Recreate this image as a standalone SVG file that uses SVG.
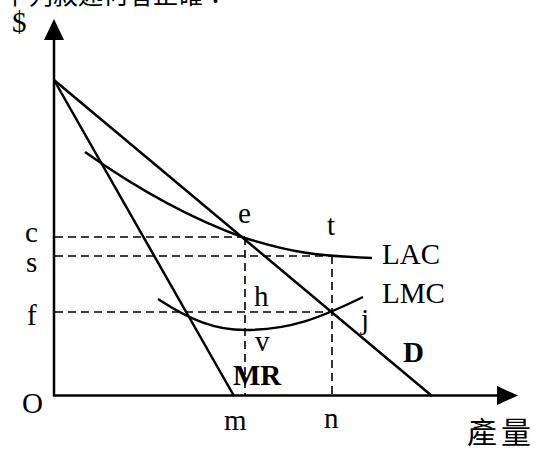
<svg xmlns="http://www.w3.org/2000/svg" width="535" height="455" viewBox="0 0 535 455">
<style>
text{font-family:"Liberation Serif","Times New Roman",serif;font-size:29px;fill:#000}
.b{font-weight:bold}
.cjk{font-family:"Liberation Serif","Noto Sans CJK TC",serif}
.ln{fill:none;stroke:#000;stroke-width:2.5}
.ax{fill:none;stroke:#000;stroke-width:2.5}
.dash{fill:none;stroke:#000;stroke-width:1.6;stroke-dasharray:8 5}
</style>
<rect width="535" height="455" fill="#fff"/>
<text class="cjk" x="3" y="4" style="font-size:25px">下列敘述何者正確：</text>
<g id="axes">
<line class="ax" x1="54" y1="396" x2="54" y2="38"/>
<path d="M44,40 L54,19 L64,40 Z" fill="#000"/>
<line class="ax" x1="53" y1="395.5" x2="498" y2="395.5"/>
<path d="M497,386 L518,395.5 L497,405 Z" fill="#000"/>
</g>
<g id="connectors">
<line class="dash" x1="55" y1="237" x2="245" y2="237"/>
<line class="dash" x1="55" y1="256" x2="332" y2="256"/>
<line class="dash" x1="55" y1="312" x2="332" y2="312"/>
<line class="dash" x1="245" y1="237" x2="245" y2="395"/>
<line class="dash" x1="332" y1="256" x2="332" y2="395"/>
</g>
<g id="D"><line class="ln" x1="54" y1="80" x2="432" y2="396"/></g>
<g id="MR"><line class="ln" x1="54" y1="80" x2="234" y2="396"/></g>
<g id="LAC"><path class="ln" d="M85,152 C150,198 200,222 245,238 C290,252 315,256 372,258"/></g>
<g id="LMC"><path class="ln" d="M158,299 C190,320 215,330 245,330 C290,330 320,318 363,297"/></g>
<g id="labels">
<text x="12" y="32">$</text>
<text x="25" y="242">c</text>
<text x="26" y="272">s</text>
<text x="27" y="325">f</text>
<text x="22" y="413">O</text>
<text x="238" y="223">e</text>
<text x="327" y="235">t</text>
<text x="254" y="306">h</text>
<text x="361" y="329">j</text>
<text x="255" y="351">v</text>
<text class="b" x="233" y="385">MR</text>
<text class="b" x="403" y="362">D</text>
<text x="224" y="430">m</text>
<text x="324" y="428">n</text>
<text x="382" y="264">LAC</text>
<text x="382" y="303">LMC</text>
<text class="cjk" x="467" y="443" style="font-size:30px">產<tspan dx="4">量</tspan></text>
</g>
</svg>
